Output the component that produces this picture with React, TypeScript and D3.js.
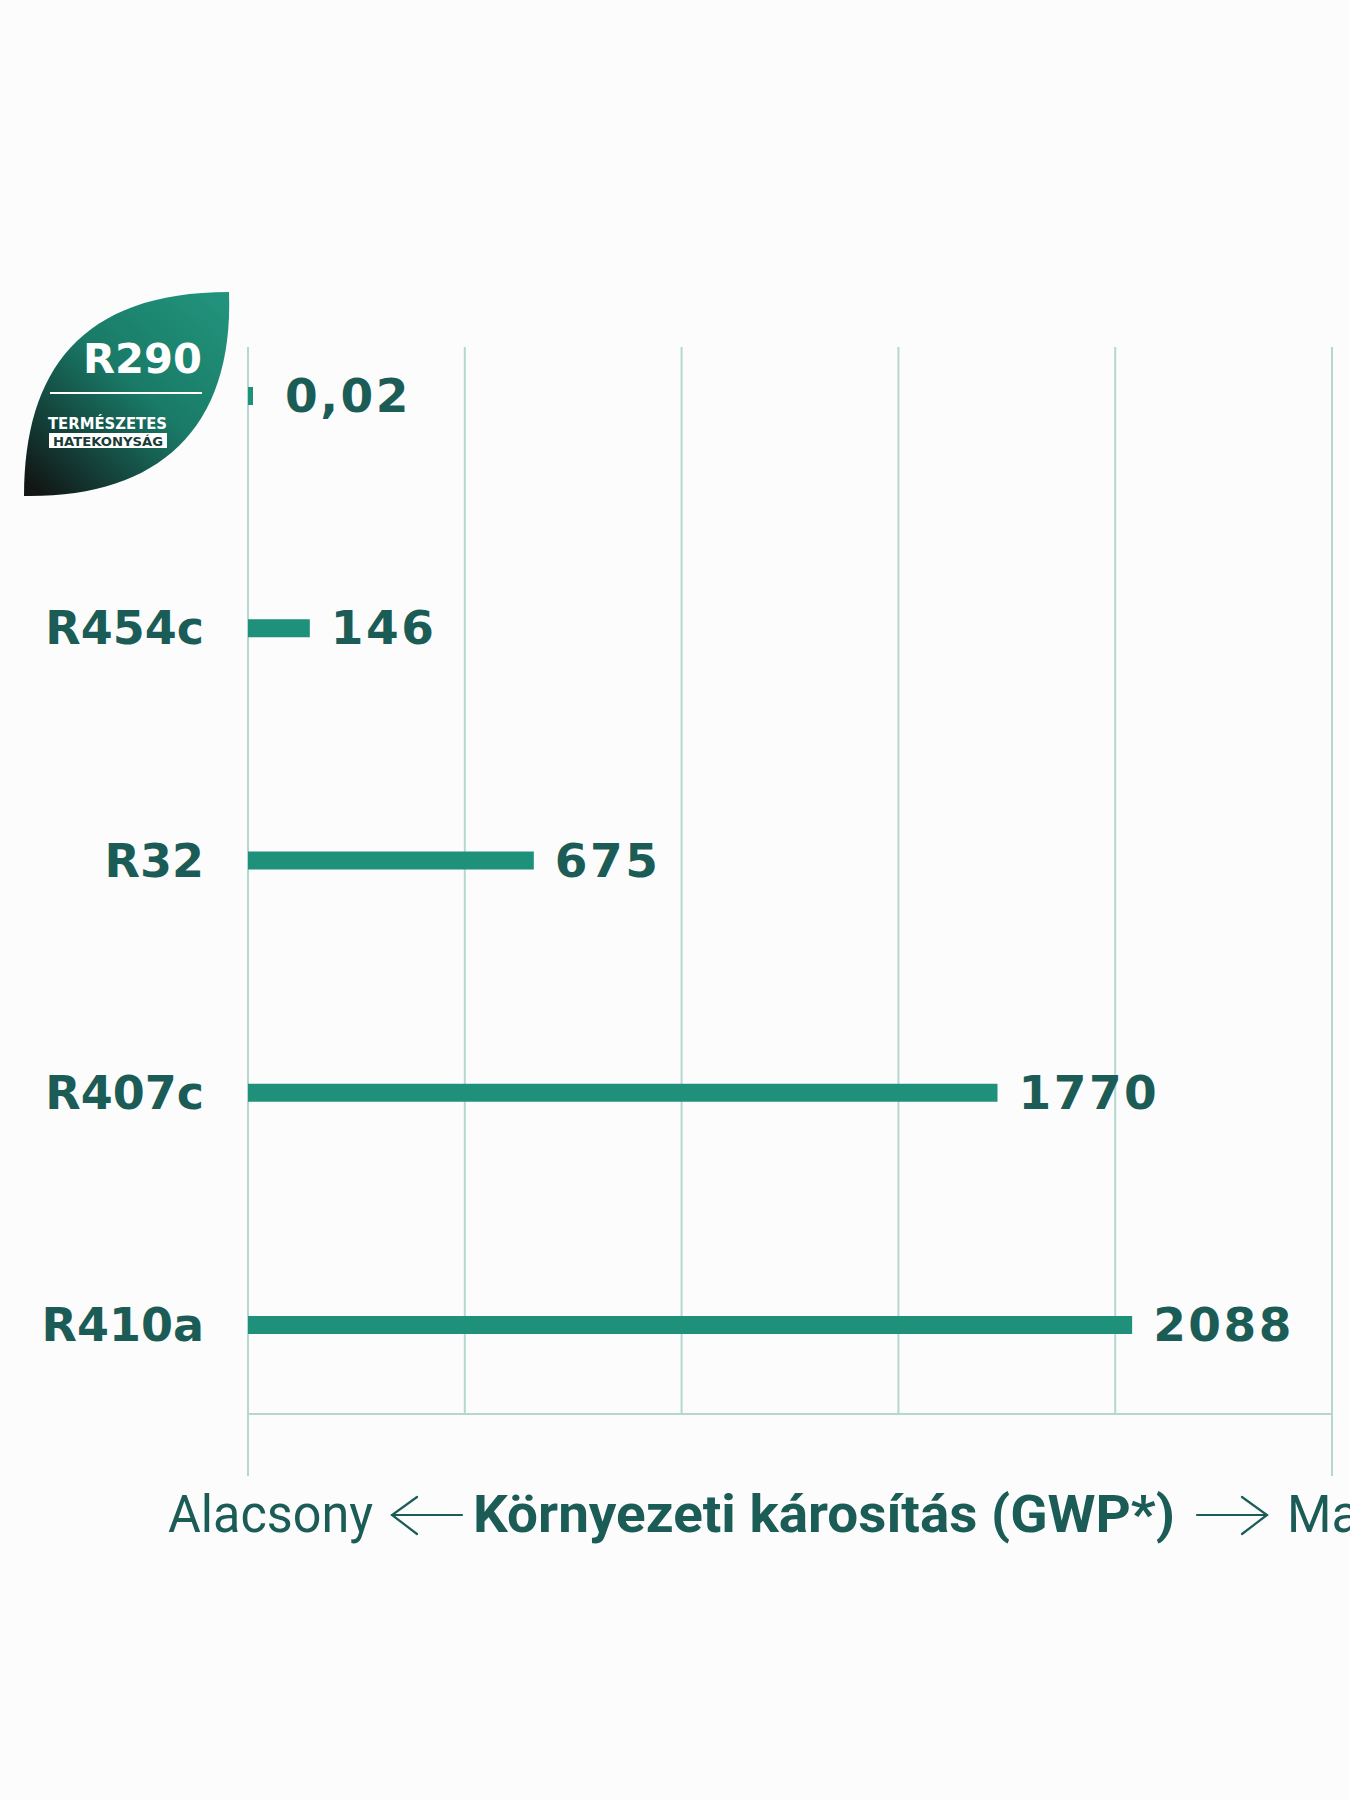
import React from "react";
import * as d3 from "d3";

const categories = ["R290", "R454c", "R32", "R407c", "R410a"];
const gwpValues = [0.02, 146, 675, 1770, 2088];
const valueLabels = ["0,02", "146", "675", "1770", "2088"];
const GWP_MAX = 2560;
const GRID_DIVISIONS = 5;
const axisLow = "Alacsony";
const axisTitle = "Környezeti károsítás (GWP*)";
const axisHigh = "Magas";
const badgeTitle = "R290";
const badgeLine1 = "TERMÉSZETES";
const badgeLine2 = "HATEKONYSÁG";

const W = 1350;
const H = 1800;
const TEXT = "#1c5c57";
const BAR = "#1f917b";
const GRID = "#b5d7d0";
const BG = "#fcfcfc";
const BOLD_FONT = "'DejaVu Sans', sans-serif";
const AXIS_FONT = "Roboto, 'Noto Sans', sans-serif";

export default function App() {
  const x = d3.scaleLinear().domain([0, GWP_MAX]).range([248, 1332]);
  const y = d3.scalePoint<string>().domain(categories).range([396, 1325]);
  const gridTop = 347;
  const axisY = 1414;
  const gridBottomExt = 1476;
  const barH = 18;
  const gridVals = d3.range(GRID_DIVISIONS + 1).map((i) => (i * GWP_MAX) / GRID_DIVISIONS);

  const badgeY = (y("R290") as number) - 396;

  return (
    <svg
      width={W}
      height={H}
      style={{ position: "absolute", left: 0, top: 0, display: "block" }}
      xmlns="http://www.w3.org/2000/svg"
    >
      <defs>
        <linearGradient id="leafGrad" gradientUnits="userSpaceOnUse" x1="215" y1="300" x2="35" y2="490">
          <stop offset="0" stopColor="#21927b" />
          <stop offset="0.45" stopColor="#197a67" />
          <stop offset="0.75" stopColor="#14453d" />
          <stop offset="1" stopColor="#121614" />
        </linearGradient>
      </defs>
      <rect x={0} y={0} width={W} height={H} fill={BG} />

      {/* grid */}
      {gridVals.map((v, i) => (
        <line
          key={"g" + i}
          x1={x(v)}
          x2={x(v)}
          y1={gridTop}
          y2={i === 0 || i === GRID_DIVISIONS ? gridBottomExt : axisY}
          stroke={GRID}
          strokeWidth={2}
        />
      ))}
      <line x1={x(0)} x2={x(GWP_MAX)} y1={axisY} y2={axisY} stroke={GRID} strokeWidth={2} />

      {/* bars */}
      {categories.map((c, i) => {
        const cy = y(c) as number;
        const w = Math.max(x(gwpValues[i]) - x(0), 5);
        return (
          <g key={c}>
            <rect x={x(0)} y={cy - barH / 2} width={w} height={barH} fill={BAR} />
            <text
              x={x(0) + w + (i === 0 ? 32 : 21)}
              y={cy + 16}
              fill={TEXT}
              fontFamily={BOLD_FONT}
              fontWeight={700}
              fontSize={47}
              letterSpacing={2.5}
            >
              {valueLabels[i]}
            </text>
            {i > 0 && (
              <text
                x={204}
                y={cy + 16}
                textAnchor="end"
                fill={TEXT}
                fontFamily={BOLD_FONT}
                fontWeight={700}
                fontSize={46}
              >
                {c}
              </text>
            )}
          </g>
        );
      })}

      {/* badge */}
      <g transform={`translate(0,${badgeY})`}>
        <path
          d="M229,292 C80,292 24,372 24,496 C155,498 234,432 229,292 Z"
          fill="url(#leafGrad)"
        />
        <text
          x={83}
          y={373}
          fill="#ffffff"
          fontFamily={BOLD_FONT}
          fontWeight={700}
          fontSize={41}
          textLength={119}
          lengthAdjust="spacingAndGlyphs"
        >
          {badgeTitle}
        </text>
        <line x1={50} x2={202} y1={393} y2={393} stroke="#ffffff" strokeWidth={2} />
        <text
          x={48}
          y={429}
          fill="#ffffff"
          fontFamily={BOLD_FONT}
          fontWeight={700}
          fontSize={16}
          textLength={119}
          lengthAdjust="spacingAndGlyphs"
        >
          {badgeLine1}
        </text>
        <rect x={49} y={433} width={118} height={15} fill="#ffffff" />
        <text
          x={53}
          y={445.5}
          fill="#1a3b37"
          fontFamily={BOLD_FONT}
          fontWeight={700}
          fontSize={13}
          textLength={110}
          lengthAdjust="spacingAndGlyphs"
        >
          {badgeLine2}
        </text>
      </g>

      {/* axis title */}
      <text
        x={168}
        y={1532}
        fill={TEXT}
        fontFamily={AXIS_FONT}
        fontWeight={400}
        fontSize={51}
        textLength={205}
        lengthAdjust="spacingAndGlyphs"
      >
        {axisLow}
      </text>
      <g stroke={TEXT} strokeWidth={2.2} fill="none" strokeLinecap="round">
        <line x1={392} x2={462} y1={1515} y2={1515} />
        <polyline points="417,1497 392,1515 417,1534" />
        <line x1={1197} x2={1267} y1={1515} y2={1515} />
        <polyline points="1242,1497 1267,1515 1242,1534" />
      </g>
      <text
        x={473}
        y={1532}
        fill={TEXT}
        fontFamily={AXIS_FONT}
        fontWeight={700}
        fontSize={51}
        textLength={702}
        lengthAdjust="spacingAndGlyphs"
      >
        {axisTitle}
      </text>
      <text
        x={1287}
        y={1532}
        fill={TEXT}
        fontFamily={AXIS_FONT}
        fontWeight={400}
        fontSize={51}
      >
        {axisHigh}
      </text>
    </svg>
  );
}
